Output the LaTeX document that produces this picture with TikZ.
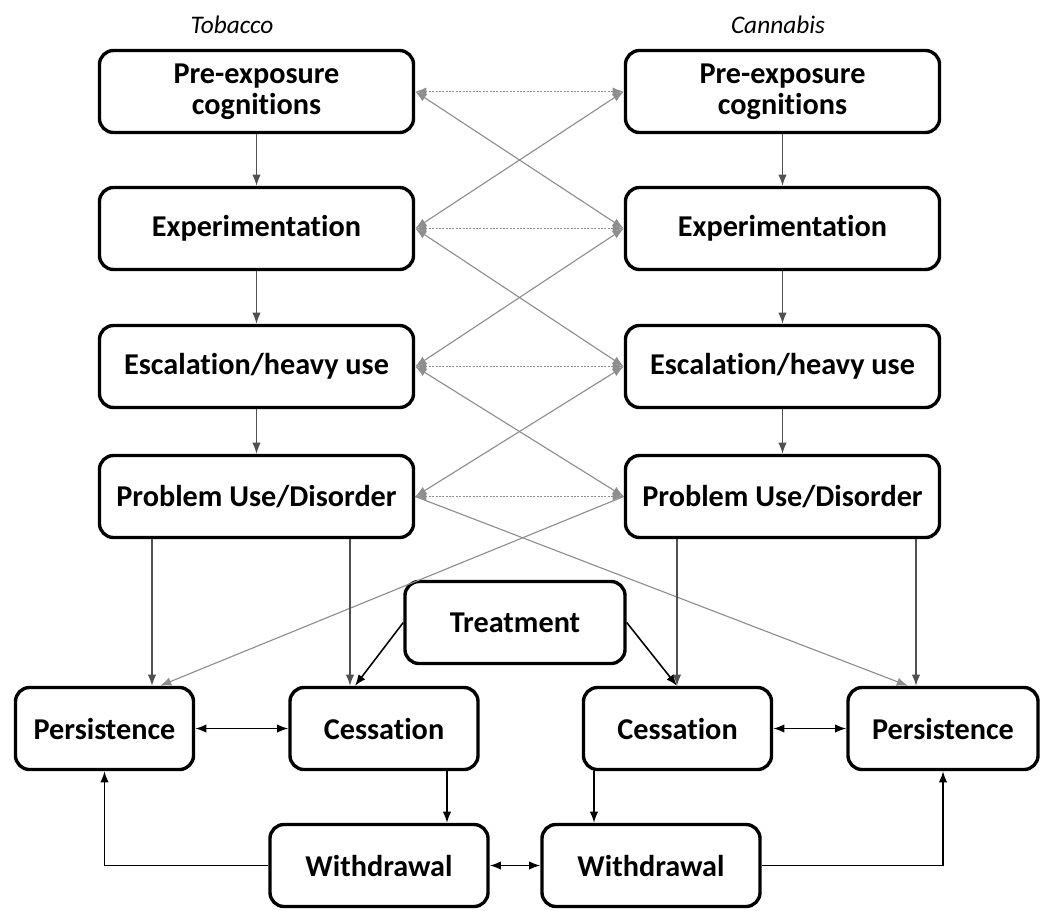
\documentclass[tikz,border=0pt]{standalone}
\usepackage{fontspec}
\setmainfont{Carlito}[Ligatures=NoCommon]
\usepackage{tikz}
\usetikzlibrary{arrows.meta}
\definecolor{ink}{HTML}{000000}
\definecolor{midgrey}{HTML}{505050}
\definecolor{lightgrey}{HTML}{8E8E8E}
\tikzset{
  stage/.style={draw=ink, line width=2.4pt, rounded corners=10pt, align=center,
    minimum width=7.85cm, minimum height=2.05cm, inner sep=2pt,
    font=\bfseries\fontsize{21.5}{22}\selectfont},
  title/.style={font=\itshape\fontsize{18}{22}\selectfont},
  tip/.style={>={Latex[length=8pt,width=6pt]}},
  flow/.style={tip, ->, line width=1pt, draw=midgrey},
  twoway/.style={tip, <->, line width=1.1pt, draw=ink},
  link/.style={tip, <->, line width=1.4pt, densely dotted, draw=lightgrey},
  diag/.style={tip, <->, line width=0.8pt, draw=lightgrey},
  diagone/.style={tip, ->, line width=0.8pt, draw=lightgrey},
}

\begin{document}
\begin{tikzpicture}[x=0.025cm, y=-0.025cm]
  \useasboundingbox (0,0) rectangle (1044,910);

  \node[title] (ttitle) at (232,25) {Tobacco};
  \node[title] (ctitle) at (778,25) {Cannabis};

  % tobacco column
  \node[stage] (tpre)  at (256.5,91.5)  {Pre-exposure\\cognitions};
  \node[stage] (texp)  at (256.5,228.5) {Experimentation};
  \node[stage] (tesc)  at (256.5,366.5) {Escalation/heavy use};
  \node[stage] (tprob) at (256.5,496.5) {Problem Use/Disorder};

  % cannabis column
  \node[stage] (cpre)  at (782.5,91.5)  {Pre-exposure\\cognitions};
  \node[stage] (cexp)  at (782.5,228.5) {Experimentation};
  \node[stage] (cesc)  at (782.5,366.5) {Escalation/heavy use};
  \node[stage] (cprob) at (782.5,496.5) {Problem Use/Disorder};

  % outcomes
  \node[stage, minimum width=5.5cm]  (treat) at (515,622.5)  {Treatment};
  \node[stage, minimum width=4.45cm] (tpers) at (104.5,728.5) {Persistence};
  \node[stage, minimum width=4.7cm]  (tcess) at (384,728.5)   {Cessation};
  \node[stage, minimum width=4.7cm]  (ccess) at (677.5,728.5) {Cessation};
  \node[stage, minimum width=4.75cm] (cpers) at (943,728.5)   {Persistence};
  \node[stage, minimum width=5.45cm] (twith) at (379,865.5)   {Withdrawal};
  \node[stage, minimum width=5.45cm] (cwith) at (651,865.5)   {Withdrawal};

  % drop lines
  \coordinate (xa) at (152,0);
  \coordinate (xb) at (350,0);
  \coordinate (xc) at (677,0);
  \coordinate (xd) at (916,0);
  \coordinate (xe) at (447,0);
  \coordinate (xf) at (594,0);
  \coordinate (xg) at (160,0);
  \coordinate (xh) at (908,0);
  \coordinate (xk) at (355,0);

  \draw[flow] (tpre) -- (texp);
  \draw[flow] (texp) -- (tesc);
  \draw[flow] (tesc) -- (tprob);
  \draw[flow] (cpre) -- (cexp);
  \draw[flow] (cexp) -- (cesc);
  \draw[flow] (cesc) -- (cprob);

  \draw[link] (tpre) -- (cpre);
  \draw[link] (texp) -- (cexp);
  \draw[link] (tesc) -- (cesc);
  \draw[link] (tprob) -- (cprob);

  \draw[diag] (tpre.east) -- (cexp.west);
  \draw[diag] (cpre.west) -- (texp.east);
  \draw[diag] (texp.east) -- (cesc.west);
  \draw[diag] (cexp.west) -- (tesc.east);
  \draw[diag] (tesc.east) -- (cprob.west);
  \draw[diag] (cesc.west) -- (tprob.east);
  \draw[diagone] (tprob.east) -- (cpers.north -| xh);
  \draw[diagone] (cprob.west) -- (tpers.north -| xg);

  \draw[flow] (tprob.south -| xa) -- (tpers.north -| xa);
  \draw[flow] (tprob.south -| xb) -- (tcess.north -| xb);
  \draw[flow] (cprob.south -| xc) -- (ccess.north -| xc);
  \draw[flow] (cprob.south -| xd) -- (cpers.north -| xd);

  \draw[twoway, ->] (treat.west) -- (tcess.north -| xk);
  \draw[twoway, ->] (treat.east) -- (ccess.north -| xc);

  \draw[twoway] (tpers) -- (tcess);
  \draw[twoway] (ccess) -- (cpers);
  \draw[twoway] (twith) -- (cwith);

  \draw[flow, draw=ink] (tcess.south -| xe) -- (twith.north -| xe);
  \draw[flow, draw=ink] (ccess.south -| xf) -- (cwith.north -| xf);
  \draw[flow, draw=ink] (twith.west) -| (tpers.south);
  \draw[flow, draw=ink] (cwith.east) -| (cpers.south);
\end{tikzpicture}
\end{document}
